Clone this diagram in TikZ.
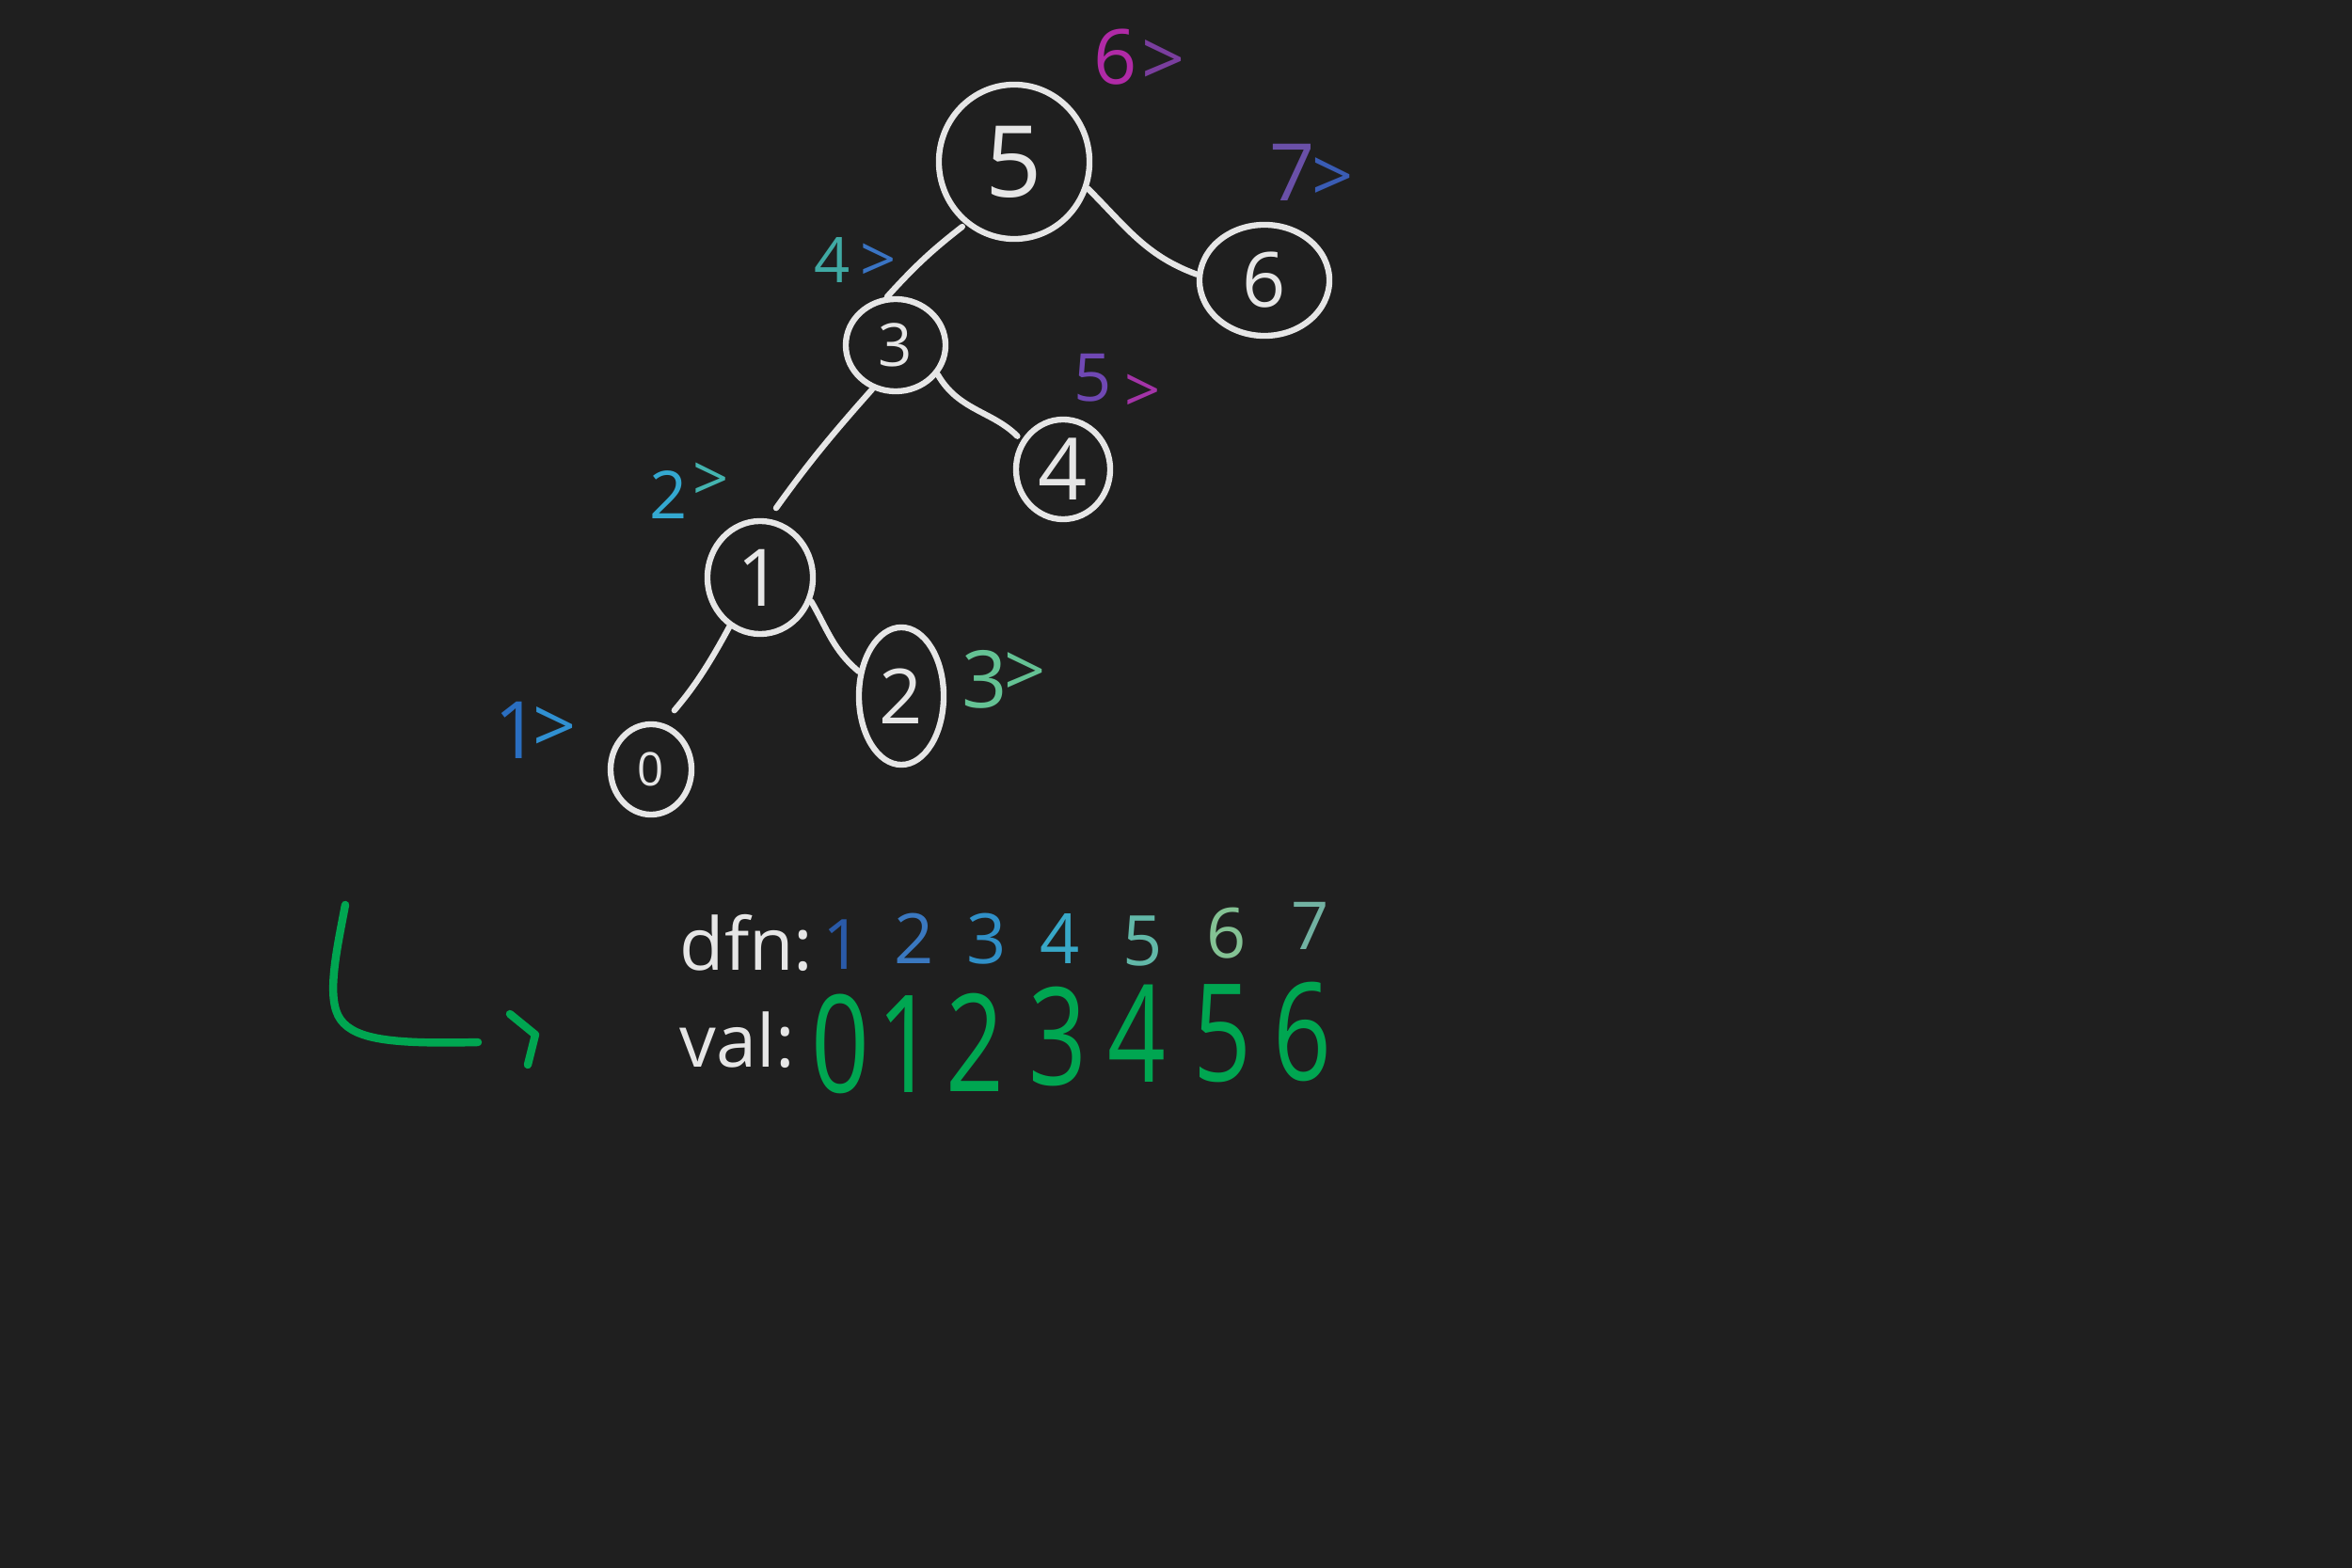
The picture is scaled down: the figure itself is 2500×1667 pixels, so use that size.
\documentclass[tikz,border=0pt]{standalone}
\usepackage{fontspec}
\setmainfont{Open Sans}
\usetikzlibrary{shapes.geometric}
\definecolor{bg}{HTML}{1F1F1F}
\definecolor{chalk}{HTML}{E6E6E6}
\definecolor{pen}{HTML}{00A651}
\definecolor{cMag}{HTML}{B02AA6}
\definecolor{cPur}{HTML}{7A3E9E}
\definecolor{cVio}{HTML}{6A50A8}
\definecolor{cBlu}{HTML}{3A5CB4}
\definecolor{cTeal}{HTML}{40AAA4}
\definecolor{cBlu2}{HTML}{3A74C4}
\definecolor{cPur2}{HTML}{7048B4}
\definecolor{cMag2}{HTML}{A434A8}
\definecolor{cCya}{HTML}{34A8D0}
\definecolor{cTeal2}{HTML}{44B4B0}
\definecolor{cGrn}{HTML}{64C294}
\definecolor{cBlu3}{HTML}{2A6EC0}
\definecolor{cBlu4}{HTML}{3090D2}
\definecolor{dA}{HTML}{2A5AA8}
\definecolor{dB}{HTML}{3A78C0}
\definecolor{dC}{HTML}{3090C8}
\definecolor{dD}{HTML}{38A8C8}
\definecolor{dE}{HTML}{62B8A8}
\definecolor{dF}{HTML}{84C294}
\definecolor{dG}{HTML}{72B2A2}
\tikzset{
  tnode/.style={ellipse, draw=chalk, line width=1.8pt, inner sep=0pt, text=chalk},
  edgeline/.style={draw=chalk, line width=1.8pt, line cap=round},
  lab/.style={inner sep=0pt, font=\fontsize{#1}{#1}\selectfont},
  chalktext/.style={inner sep=0pt, text=chalk, font=\fontsize{22}{22}\selectfont},
  bignum/.style={inner sep=0pt, text=pen, font=\fontsize{41}{41}\selectfont},
  greenpen/.style={draw=pen, line width=2.4pt, line cap=round, line join=round}
}
\begin{document}
\begin{tikzpicture}[x=0.01cm,y=-0.01cm]
\fill[bg] (0,0) rectangle (2500,1667);
\useasboundingbox (0,0) rectangle (2500,1667);

% tree nodes
\node[tnode, minimum width=1.60cm, minimum height=1.64cm, font=\fontsize{30}{30}\selectfont] (n5) at (1078,172) {5};
\node[tnode, minimum width=1.38cm, minimum height=1.18cm, font=\fontsize{23}{23}\selectfont] (n6) at (1344,298) {6};
\node[tnode, minimum width=1.06cm, minimum height=0.98cm, font=\fontsize{18}{18}\selectfont] (n3) at (952,367) {3};
\node[tnode, minimum width=1.00cm, minimum height=1.06cm, font=\fontsize{26}{26}\selectfont] (n4) at (1130,499) {4};
\node[tnode, minimum width=1.12cm, minimum height=1.20cm, font=\fontsize{24}{24}\selectfont] (n1) at (808,614) {1};
\node[tnode, minimum width=0.90cm, minimum height=1.46cm, font=\fontsize{23}{23}\selectfont] (n2) at (958,740) {2};
\node[tnode, minimum width=0.86cm, minimum height=0.96cm, font=\fontsize{14}{14}\selectfont] (n0) at (692,818) {0};

% edges
\draw[edgeline, shorten <=0.04cm] (n5.-128) to[bend right=5] (n3.100);
\draw[edgeline] (n5.-20) to[out=-45,in=160] (n6.175);
\draw[edgeline, shorten >=0.14cm] (n3.-118) to[bend right=3] (n1.82);
\draw[edgeline, shorten >=0.06cm] (n3.-35) to[out=-60,in=135] (n4.145);
\draw[edgeline, shorten >=0.18cm] (n1.-122) to[bend left=6] (n0.75);
\draw[edgeline] (n1.-25) to[out=-60,in=140] (n2.150);

% order labels
\node[lab=23, text=cMag] (l6a) at (1186,61) {6};
\node[lab=23, text=cPur] (l6b) at (1237,67) {>};
\node[lab=24, text=cVio] (l7a) at (1374,183) {7};
\node[lab=22, text=cBlu] (l7b) at (1417,191) {>};
\node[lab=19, text=cTeal] (l4a) at (885,277) {4};
\node[lab=19, text=cBlu2] (l4b) at (934,279) {>};
\node[lab=20, text=cPur2] (l5a) at (1162,402) {5};
\node[lab=19, text=cMag2] (l5b) at (1215,418) {>};
\node[lab=20, text=cCya] (l2a) at (711,526) {2};
\node[lab=19, text=cTeal2] (l2b) at (756,512) {>};
\node[lab=24, text=cGrn] (l3a) at (1047,722) {3};
\node[lab=22, text=cGrn] (l3b) at (1090,717) {>};
\node[lab=24, text=cBlu3] (l1a) at (550,776) {1};
\node[lab=23, text=cBlu4] (l1b) at (590,776) {>};

% table
\node[chalktext, anchor=west] (dfn) at (722,1002) {dfn:};
\node[chalktext, anchor=west] (val) at (722,1106) {val:};
\node[lab=21, text=dA] (d1) at (896,1004) {1};
\node[lab=21, text=dB] (d2) at (972,998) {2};
\node[lab=21, text=dC] (d3) at (1049,998) {3};
\node[lab=21, text=dD] (d4) at (1127,998) {4};
\node[lab=21, text=dE] (d5) at (1215,1000) {5};
\node[lab=21, text=dF] (d6) at (1304,992) {6};
\node[lab=20, text=dG] (d7) at (1393,984) {7};

\node[bignum] (v0) at (893,1110) {\scalebox{0.75}[1]{0}};
\node[bignum] (v1) at (963,1110) {\scalebox{0.75}[1]{1}};
\node[bignum] (v2) at (1036,1108) {\scalebox{0.75}[1]{2}};
\node[bignum] (v3) at (1124,1102) {\scalebox{0.75}[1]{3}};
\node[bignum] (v4) at (1208,1099) {\scalebox{0.75}[1]{4}};
\node[bignum] (v5) at (1299,1099) {\scalebox{0.75}[1]{5}};
\node[bignum] (v6) at (1384,1097) {\scalebox{0.75}[1]{6}};

% green arrow
\draw[greenpen] (367,962) .. controls (358,1010) and (346,1062) .. (362,1084)
  .. controls (378,1106) and (420,1110) .. (508,1108);
\draw[greenpen] (542,1078) -- (569,1100) -- (561,1132);
\end{tikzpicture}
\end{document}
